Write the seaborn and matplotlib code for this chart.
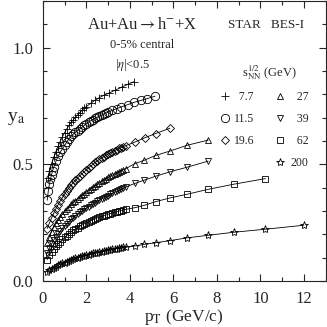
import numpy as np
import matplotlib
matplotlib.use("Agg")
import matplotlib.pyplot as plt
from matplotlib.lines import Line2D
from matplotlib.ticker import MultipleLocator
import seaborn as sns

# energies (GeV) and marker per energy
energies = ["\u20077.7", "11.5", "19.6", "\u200727", "\u200739", "\u200762", "200"]
markers = ["+", "o", "D", "^", "v", "s", "*"]
msizes = [6, 6, 3.8, 4.5, 4.5, 3.8, 6]

pt_7 = [0.25, 0.3, 0.4, 0.5, 0.6, 0.7, 0.8, 0.9, 1.0, 1.1, 1.2, 1.3, 1.4, 1.5, 1.6, 1.7, 1.8, 1.9, 2.0,
        2.2, 2.4, 2.6, 2.8, 3.05, 3.3, 3.65, 3.9, 4.2]
ya_7 = [0.443, 0.47, 0.503, 0.53, 0.555, 0.577, 0.598, 0.618, 0.636, 0.652, 0.667, 0.68, 0.691, 0.702,
        0.712, 0.722, 0.731, 0.74, 0.748, 0.762, 0.775, 0.786, 0.796, 0.806, 0.817, 0.832, 0.843, 0.855]

pt_11 = [0.2, 0.25, 0.3, 0.35, 0.4, 0.45, 0.5, 0.6, 0.7, 0.8, 0.9, 1.0, 1.1, 1.2, 1.3, 1.4, 1.5, 1.6,
         1.7, 1.8, 1.9, 2.0, 2.1, 2.2, 2.3, 2.4, 2.5, 2.6, 2.7, 2.8, 2.9, 3.0, 3.2, 3.4, 3.6, 3.9, 4.2,
         4.5, 4.8, 5.15]
ya_11 = [0.346, 0.385, 0.415, 0.437, 0.456, 0.473, 0.488, 0.513, 0.534, 0.552, 0.567, 0.581, 0.596,
         0.61, 0.621, 0.63, 0.638, 0.645, 0.652, 0.66, 0.667, 0.674, 0.681, 0.687, 0.692, 0.697, 0.702,
         0.707, 0.711, 0.716, 0.72, 0.724, 0.732, 0.739, 0.746, 0.756, 0.766, 0.774, 0.782, 0.792]

pt_low = [0.2, 0.3, 0.4, 0.5, 0.6, 0.7, 0.8, 0.9, 1.0, 1.1, 1.2, 1.3, 1.4, 1.5, 1.6, 1.7, 1.8, 1.9, 2.0,
          2.1, 2.2, 2.3, 2.4, 2.5, 2.6, 2.7, 2.8, 2.9, 3.0, 3.1, 3.2, 3.3, 3.4, 3.5, 3.6, 3.7, 3.8]

pt_19 = pt_low + [4.22, 4.68, 5.18, 5.84]
ya_19 = [0.225, 0.248, 0.27, 0.29, 0.31, 0.327, 0.343, 0.358, 0.373, 0.387, 0.4, 0.411, 0.422, 0.432,
         0.442, 0.451, 0.46, 0.468, 0.477, 0.485, 0.493, 0.5, 0.508, 0.515, 0.521, 0.527, 0.533, 0.539,
         0.544, 0.549, 0.554, 0.559, 0.563, 0.568, 0.572, 0.576, 0.58, 0.595, 0.614, 0.632, 0.655]

pt_27 = pt_low + [4.22, 4.65, 5.18, 5.84, 6.64, 7.6]
ya_27 = [0.165, 0.19, 0.212, 0.23, 0.247, 0.262, 0.275, 0.287, 0.298, 0.309, 0.319, 0.328, 0.337, 0.345,
         0.353, 0.36, 0.368, 0.375, 0.382, 0.389, 0.396, 0.402, 0.409, 0.415, 0.421, 0.427, 0.433, 0.438,
         0.444, 0.449, 0.454, 0.459, 0.464, 0.469, 0.473, 0.477, 0.481, 0.503, 0.517, 0.538, 0.557, 0.582,
         0.604]

pt_39 = pt_low + [4.22, 4.65, 5.18, 5.84, 6.64, 7.6]
ya_39 = [0.118, 0.14, 0.159, 0.175, 0.189, 0.202, 0.214, 0.226, 0.236, 0.246, 0.255, 0.264, 0.272, 0.28,
         0.287, 0.294, 0.301, 0.307, 0.313, 0.319, 0.325, 0.331, 0.336, 0.342, 0.347, 0.352, 0.357, 0.362,
         0.366, 0.371, 0.376, 0.38, 0.385, 0.389, 0.394, 0.398, 0.402, 0.418, 0.432, 0.449, 0.468, 0.488,
         0.514]

pt_62 = pt_low + [4.22, 4.65, 5.18, 5.84, 6.64, 7.6, 8.78, 10.23]
ya_62 = [0.092, 0.11, 0.124, 0.137, 0.149, 0.159, 0.169, 0.178, 0.187, 0.195, 0.203, 0.21, 0.217, 0.223,
         0.229, 0.235, 0.24, 0.245, 0.25, 0.254, 0.258, 0.262, 0.266, 0.27, 0.274, 0.277, 0.28, 0.283,
         0.286, 0.289, 0.292, 0.295, 0.297, 0.3, 0.302, 0.305, 0.307, 0.314, 0.324, 0.34, 0.356, 0.372,
         0.393, 0.415, 0.439]

pt_200 = pt_low + [4.22, 4.65, 5.18, 5.84, 6.64, 7.6, 8.78, 10.23, 12.0]
ya_200 = [0.04, 0.046, 0.052, 0.057, 0.062, 0.067, 0.071, 0.075, 0.079, 0.083, 0.087, 0.09, 0.094, 0.097,
          0.1, 0.103, 0.106, 0.108, 0.111, 0.113, 0.116, 0.118, 0.12, 0.122, 0.124, 0.126, 0.128, 0.13,
          0.132, 0.134, 0.136, 0.137, 0.139, 0.141, 0.142, 0.144, 0.145, 0.15, 0.157, 0.164, 0.173, 0.185,
          0.196, 0.209, 0.222, 0.239]

all_pt = [pt_7, pt_11, pt_19, pt_27, pt_39, pt_62, pt_200]
all_ya = [ya_7, ya_11, ya_19, ya_27, ya_39, ya_62, ya_200]

sns.set_style("ticks")
plt.rcParams['font.family'] = ['Liberation Serif', 'DejaVu Serif']
plt.rcParams['mathtext.fontset'] = 'stix'

fig = plt.figure(figsize=(3.27, 3.27), dpi=100)
ax = fig.add_axes([0.131, 0.1407, 0.865, 0.856])

for pt, ya, mk, ms in zip(all_pt, all_ya, markers, msizes):
    sns.lineplot(x=pt, y=ya, ax=ax, color='k', linewidth=0.6, marker=mk, markersize=ms,
                 markerfacecolor='none', markeredgecolor='k', markeredgewidth=0.6,
                 estimator=None, sort=False)

ax.set_xlim(0, 13)
ax.set_ylim(0, 1.2)
ax.xaxis.set_major_locator(MultipleLocator(2))
ax.xaxis.set_minor_locator(MultipleLocator(1))
ax.yaxis.set_major_locator(MultipleLocator(0.5))
ax.yaxis.set_minor_locator(MultipleLocator(0.1))
ax.tick_params(which='both', direction='in', top=True, right=True, labelsize=12, width=0.8)
ax.tick_params(which='major', length=5)
ax.tick_params(which='minor', length=3)
ax.tick_params(axis='x', pad=7)
ax.tick_params(axis='y', pad=7)
for sp in ax.spines.values():
    sp.set_linewidth(0.8)
ax.set_xticks([0, 2, 4, 6, 8, 10, 12])
ax.set_yticks([0.0, 0.5, 1.0])
ax.set_yticklabels(["0.0", "0.5", "1.0"])

ax.set_xlabel(r"p$_\mathrm{T}$ (GeV/c)", fontsize=12.5, labelpad=0)
ax.set_ylabel(r"y$_\mathrm{a}$", fontsize=14, rotation=0)
ax.yaxis.set_label_coords(-0.095, 0.55)

ax.text(0.35, 0.914, r"Au+Au$\rightarrow$h$^{-}$+X", transform=ax.transAxes, ha='center', va='center', fontsize=12)
ax.text(0.35, 0.843, "0-5% central", transform=ax.transAxes, ha='center', va='center', fontsize=9)
ax.text(0.318, 0.771, r"|$\eta$|<0.5", transform=ax.transAxes, ha='center', va='center', fontsize=9)
ax.text(0.788, 0.914, "STAR   BES-I", transform=ax.transAxes, ha='center', va='center', fontsize=9.5)
ax.text(0.802, 0.743, r"s$_\mathrm{NN}^\mathrm{1/2}$ (GeV)", transform=ax.transAxes, ha='center', va='center', fontsize=9)

handles = []
for mk, ms in zip(markers, msizes):
    handles.append(Line2D([], [], linestyle='none', marker=mk, markersize=ms, color='k',
                          markerfacecolor='none', markeredgewidth=0.6))

leg1 = ax.legend(handles[:3], energies[:3], loc='upper left', bbox_to_anchor=(0.628, 0.679),
                 frameon=False, fontsize=8.5, handlelength=0.8, handletextpad=0.3,
                 labelspacing=0.85, borderpad=0, borderaxespad=0)
ax.add_artist(leg1)
leg2 = ax.legend(handles[3:], energies[3:], loc='upper left', bbox_to_anchor=(0.821, 0.679),
                 frameon=False, fontsize=8.5, handlelength=0.8, handletextpad=0.55,
                 labelspacing=0.85, borderpad=0, borderaxespad=0)

fig.savefig("out.png", dpi=100)
